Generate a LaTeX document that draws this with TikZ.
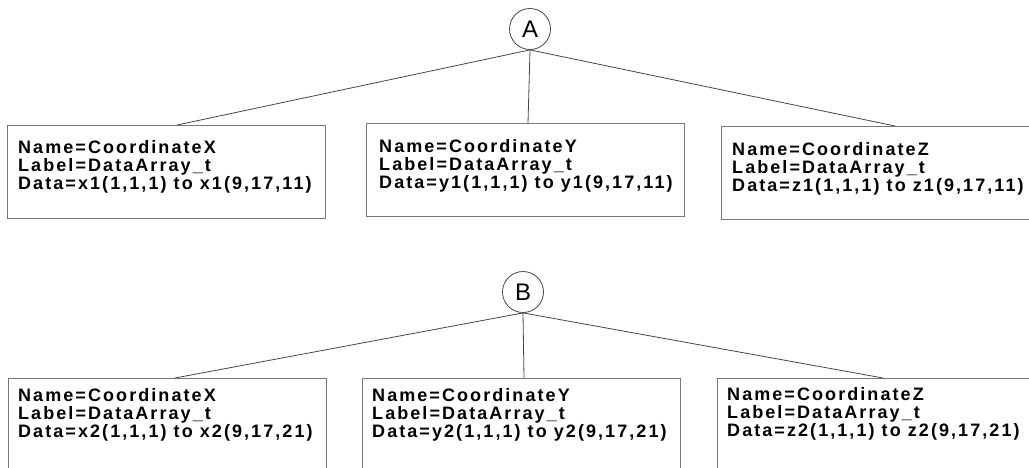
\documentclass[tikz,border=0pt]{standalone}
\usepackage{fontspec}
\setmainfont{Liberation Sans}
\newfontfamily\boxfont{Liberation Sans}[LetterSpace=11.5]
\usetikzlibrary{calc}
\definecolor{boxgray}{RGB}{120,120,120}
\definecolor{linegray}{RGB}{70,70,70}
\tikzset{
  databox/.style={draw=boxgray, line width=1pt, rectangle, anchor=north west,
    inner sep=0pt, minimum width=318pt, minimum height=93pt},
  boxtext/.style={anchor=north west, inner sep=0pt, align=left,
    font=\boxfont\bfseries\fontsize{18}{18}\selectfont},
  rootnode/.style={draw=linegray, line width=0.8pt, circle, inner sep=0pt,
    minimum size=41pt, font=\fontsize{24}{24}\selectfont},
  conn/.style={draw=linegray, line width=0.8pt}
}
\begin{document}
\begin{tikzpicture}[x=1pt, y=-1pt]
\path[use as bounding box] (0,0) rectangle (1029,467);
\clip (0,0) rectangle (1029,467);
% tree A
\node[rootnode] (A) at (530,29) {A};
\node[databox] (b1) at (7,125) {};
\node[databox] (b2) at (366,123) {};
\node[databox] (b3) at (721,126) {};
\node[boxtext] (t1) at (18,140) {Name=CoordinateX\\Label=DataArray\_t\\Data=x1(1,1,1) to x1(9,17,11)};
\node[boxtext] (t2) at (379,139) {Name=CoordinateY\\Label=DataArray\_t\\Data=y1(1,1,1) to y1(9,17,11)};
\node[boxtext] (t3) at (732,142) {Name=CoordinateZ\\Label=DataArray\_t\\Data=z1(1,1,1) to z1(9,17,11)};
\draw[conn] (A.south) -- ($(b1.north west)+(170,0)$);
\draw[conn] (A.south) -- ($(b2.north west)+(162,0)$);
\draw[conn] (A.south) -- ($(b3.north west)+(174,0)$);
% tree B
\node[rootnode] (B) at (523,292) {B};
\node[databox] (b4) at (8,378) {};
\node[databox] (b5) at (362,378) {};
\node[databox] (b6) at (717,378) {};
\node[boxtext] (t4) at (18,388) {Name=CoordinateX\\Label=DataArray\_t\\Data=x2(1,1,1) to x2(9,17,21)};
\node[boxtext] (t5) at (372,388) {Name=CoordinateY\\Label=DataArray\_t\\Data=y2(1,1,1) to y2(9,17,21)};
\node[boxtext] (t6) at (727,387) {Name=CoordinateZ\\Label=DataArray\_t\\Data=z2(1,1,1) to z2(9,17,21)};
\draw[conn] (B.south) -- ($(b4.north west)+(167,0)$);
\draw[conn] (B.south) -- ($(b5.north west)+(162,0)$);
\draw[conn] (B.south) -- ($(b6.north west)+(166,0)$);
\end{tikzpicture}
\end{document}
